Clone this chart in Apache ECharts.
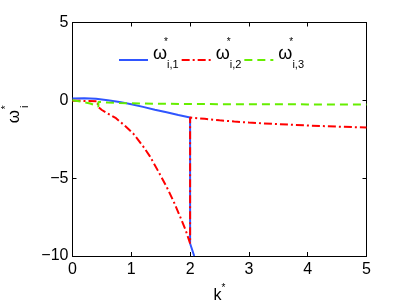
<!DOCTYPE html>
<html>
<head>
<meta charset="utf-8">
<script src="https://cdn.jsdelivr.net/npm/echarts@6/dist/echarts.min.js"></script>
<style>html,body{margin:0;padding:0;background:#fff}#c{width:405px;height:304px}</style>
</head>
<body>
<div id="c"></div>
<script>
// Series 1: omega*_{i,1}
const k1 = [0, 0.2, 0.4, 0.6, 0.8, 1.0, 1.2, 1.4, 1.6, 1.8, 2.0, 2.0, 2.07];
const w1 = [0.12, 0.14, 0.1, 0.01, -0.1, -0.25, -0.42, -0.6, -0.77, -0.94, -1.1, -9.2, -10];
// Series 2: omega*_{i,2}
const k2 = [0, 0.2, 0.43, 0.43, 0.5, 0.6, 0.74, 0.88, 1.03, 1.2, 1.32, 1.45, 1.6, 1.72, 1.83, 1.92, 1.97, 2.0, 2.0, 2.25, 2.5, 2.75, 3.0, 3.5, 4.0, 4.5, 5.0];
const w2 = [-0.02, -0.04, -0.06, -0.4, -0.62, -0.85, -1.15, -1.6, -2.12, -2.95, -3.62, -4.5, -5.55, -6.5, -7.47, -8.3, -8.86, -9.2, -1.1, -1.19, -1.28, -1.36, -1.43, -1.53, -1.62, -1.69, -1.75];
// Series 3: omega*_{i,3}
const k3 = [0, 0.15, 0.3, 0.44, 0.44, 0.6, 0.8, 1.0, 1.5, 2.0, 3.0, 4.0, 5.0];
const w3 = [0, -0.08, -0.2, -0.4, -0.1, -0.14, -0.17, -0.19, -0.22, -0.24, -0.25, -0.26, -0.27];

const seriesNames = ['w1', 'w2', 'w3'];
const seriesSubs = ['i,1', 'i,2', 'i,3'];
const xTicks = ['0', '1', '2', '3', '4', '5'];
const yTicks = ['\u221210', '\u22125', '0', '5'];

const FONT = 'Liberation Sans';
const pairs = (ks, ws) => ks.map((k, i) => [k, ws[i]]);

const axisCommon = {
  type: 'value',
  axisLine: { show: true, onZero: false, lineStyle: { color: '#000', width: 1 } },
  axisTick: { show: true, inside: true, length: 4, lineStyle: { color: '#000', width: 1 } },
  splitLine: { show: false }
};

const chart = echarts.init(document.getElementById('c'), null, { renderer: 'canvas' });
chart.setOption({
  animation: false,
  backgroundColor: '#fff',
  grid: { left: 72.5, right: 38.5, top: 22.5, bottom: 48, containLabel: false, outerBoundsMode: 'none' },
  legend: {
    data: seriesNames,
    left: 118, top: 36, padding: 0,
    itemWidth: 29, itemHeight: 14, itemGap: 2,
    itemStyle: { color: 'rgba(0,0,0,0)', borderColor: 'rgba(0,0,0,0)', borderWidth: 0, opacity: 0 },
    formatter: function (name) {
      const i = seriesNames.indexOf(name);
      return '{sp|}{st|*}\n{w|\u03c9}{sub|' + seriesSubs[i] + '}\n{gap| }';
    },
    textStyle: {
      color: '#000', fontFamily: FONT,
      rich: {
        sp: { width: 11, lineHeight: 8, align: 'left' },
        st: { fontSize: 10, lineHeight: 8, fontFamily: FONT, color: '#000', align: 'left', verticalAlign: 'middle' },
        w: { fontSize: 18, lineHeight: 16, fontFamily: FONT, color: '#000', align: 'left', verticalAlign: 'middle' },
        sub: { fontSize: 11, lineHeight: 11, padding: [22, 0, 0, 0], fontFamily: FONT, color: '#000', align: 'left', verticalAlign: 'middle' },
        gap: { fontSize: 4, lineHeight: 20, align: 'left' }
      }
    }
  },
  xAxis: [
    Object.assign({}, axisCommon, {
      min: 0, max: 5, interval: 1, position: 'bottom',
      axisLabel: { show: true, margin: 6, fontSize: 16, fontFamily: FONT, color: '#000',
        formatter: v => xTicks[Math.round(v)] },
      name: '{k|k}{st|*}',
      nameLocation: 'middle', nameGap: 22,
      nameTextStyle: {
        rich: {
          k: { fontSize: 16, lineHeight: 15, padding: [5, 0, 0, 0], fontFamily: FONT, color: '#000', align: 'left', verticalAlign: 'top' },
          st: { fontSize: 10, lineHeight: 8, fontFamily: FONT, color: '#000', align: 'left', verticalAlign: 'top' }
        }
      }
    }),
    Object.assign({}, axisCommon, {
      min: 0, max: 5, interval: 1, position: 'top', axisLabel: { show: false }
    })
  ],
  yAxis: [
    Object.assign({}, axisCommon, {
      min: -10, max: 5, interval: 5, position: 'left',
      axisLabel: { show: true, margin: 4, fontSize: 16, fontFamily: FONT, color: '#000',
        formatter: v => yTicks[Math.round((v + 10) / 5)] },
      name: '{sp|}{st|*}\n{w|\u03c9}{sub|i}',
      nameLocation: 'middle', nameRotate: 90, nameGap: 46,
      nameTextStyle: {
        padding: [0, 0, 0, 50],
        rich: {
          sp: { width: 14, lineHeight: 6, align: 'left' },
          st: { fontSize: 10, lineHeight: 6, fontFamily: FONT, color: '#000', align: 'left', verticalAlign: 'middle' },
          w: { fontSize: 17, lineHeight: 10, fontFamily: FONT, color: '#000', align: 'left', verticalAlign: 'middle' },
          sub: { fontSize: 11, lineHeight: 10, padding: [22, 0, 0, 2], fontFamily: FONT, color: '#000', align: 'left', verticalAlign: 'middle' }
        }
      }
    }),
    Object.assign({}, axisCommon, {
      min: -10, max: 5, interval: 5, position: 'right', axisLabel: { show: false }
    })
  ],
  series: [
    { name: 'w1', type: 'line', data: pairs(k1, w1), showSymbol: false, symbol: 'none',
      lineStyle: { color: '#2f55ff', width: 2, type: 'solid' }, itemStyle: { color: '#2f55ff' } },
    { name: 'w2', type: 'line', data: pairs(k2, w2), showSymbol: false, symbol: 'none',
      lineStyle: { color: '#ff0000', width: 2, type: [8, 3, 2, 3] }, itemStyle: { color: '#ff0000' } },
    { name: 'w3', type: 'line', data: pairs(k3, w3), showSymbol: false, symbol: 'none',
      lineStyle: { color: '#66ee00', width: 2, type: [8, 5] }, itemStyle: { color: '#66ee00' } }
  ]
});
</script>
</body>
</html>
